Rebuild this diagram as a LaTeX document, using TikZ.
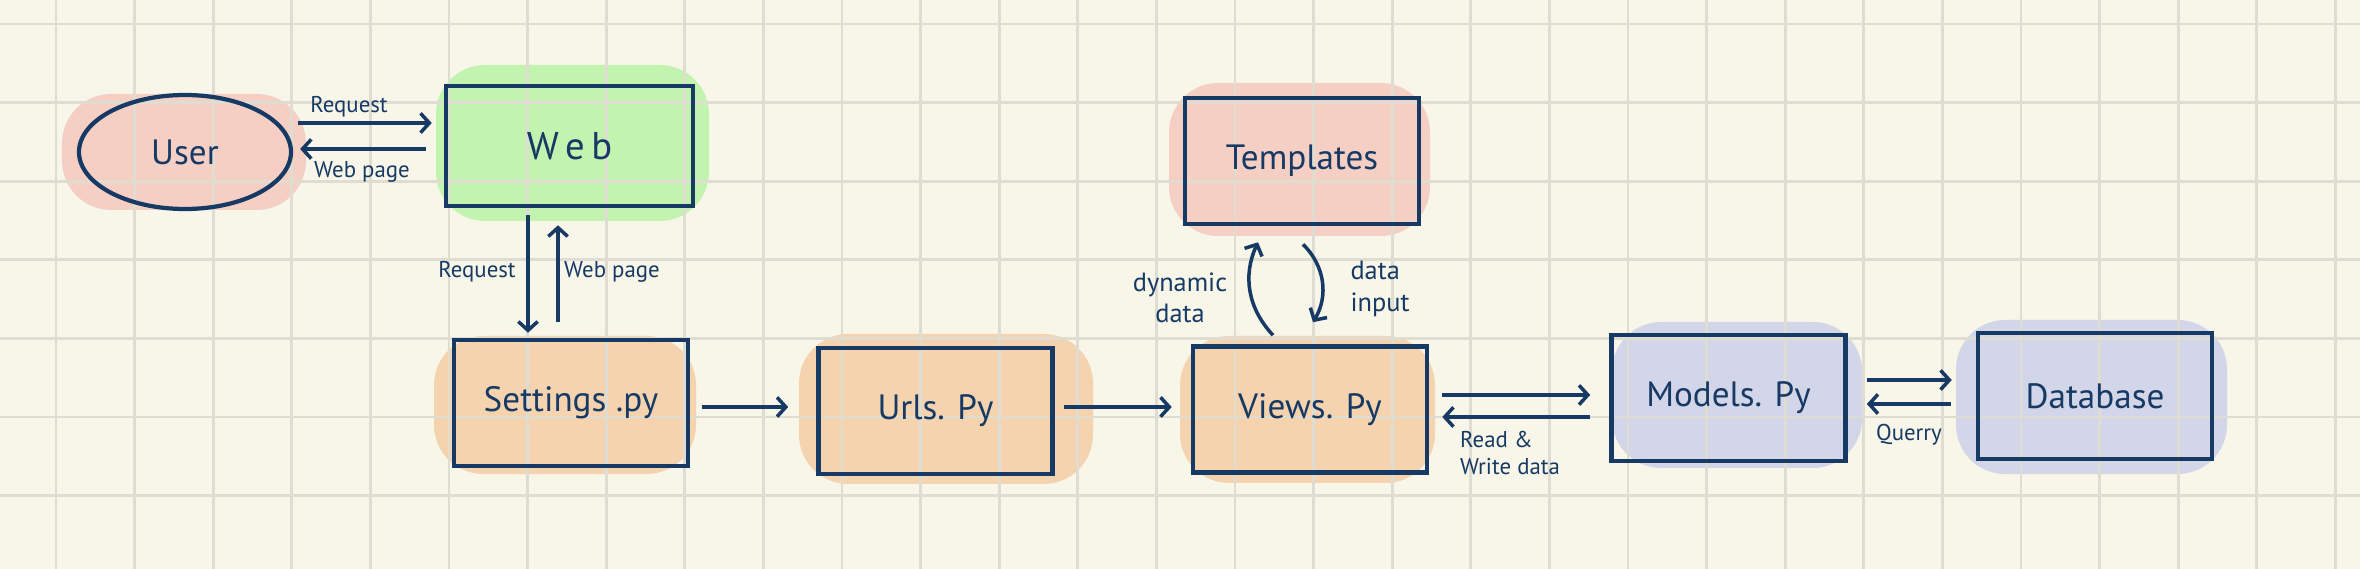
\documentclass[tikz,border=0pt]{standalone}
\usepackage{fontspec}
\setmainfont{PT Sans}
\usetikzlibrary{arrows.meta, positioning, calc, shapes.geometric}
\definecolor{paper}{HTML}{F8F5E9}
\definecolor{gridc}{HTML}{DFDCD1}
\definecolor{ink}{HTML}{163A64}
\definecolor{washPink}{HTML}{F5CFC3}
\definecolor{washGreen}{HTML}{C3F4AF}
\definecolor{washOrange}{HTML}{F6D3AF}
\definecolor{washLilac}{HTML}{D3D5E8}
\tikzset{
  box/.style={draw=ink, line width=1.3pt, text=ink, font=\fontsize{10}{12}\selectfont,
    minimum width=2.34cm, minimum height=1.26cm, inner sep=2pt},
  lbl/.style={text=ink, font=\fontsize{6.5}{7.5}\selectfont, align=center, inner sep=1pt},
  arr/.style={-{Straight Barb[length=2.5pt, width=5.5pt]}, draw=ink, line width=1pt},
  wash/.style={rounded corners=14pt},
}

\begin{document}
\begin{tikzpicture}
  \useasboundingbox (0,0) rectangle (23.6,-5.69);
  \fill[paper] (0,0) rectangle (23.6,-5.69);

  % marker washes behind the boxes
  \fill[washPink, wash] (0.62,-0.94) rectangle (3.06,-2.10);
  \fill[washGreen, wash] (4.36,-0.65) rectangle (7.09,-2.21);
  \fill[washOrange, wash] (4.34,-3.36) rectangle (6.96,-4.74);
  \fill[washOrange, wash] (7.99,-3.34) rectangle (10.93,-4.84);
  \fill[washOrange, wash] (11.80,-3.36) rectangle (14.35,-4.83);
  \fill[washPink, wash] (11.69,-0.83) rectangle (14.30,-2.36);
  \fill[washLilac, wash] (16.12,-3.22) rectangle (18.62,-4.68);
  \fill[washLilac, wash] (19.56,-3.20) rectangle (22.27,-4.74);

  % squared paper
  \foreach \k in {0,...,29}
    \draw[gridc, line width=0.8pt] ({0.56+0.786*\k},0) -- ({0.56+0.786*\k},-5.69);
  \foreach \k in {0,...,6}
    \draw[gridc, line width=0.8pt] (0,{-0.24-0.786*\k}) -- (23.6,{-0.24-0.786*\k});

  % nodes
  \node[box, ellipse, line width=1.2pt, minimum width=2.12cm, minimum height=1.14cm] (user) at (1.85,-1.52) {User};
  \node[box, minimum width=2.47cm, minimum height=1.20cm, font=\fontsize{11}{13}\selectfont] (web) at (5.695,-1.46) {W\,e\,b};
  \node[box] (settings) at (5.71,-4.03) {Settings .py};
  \node[box] (urls) at (9.355,-4.11) {Urls. Py};
  \node[box] (views) at (13.10,-4.095) {Views. Py};
  \node[box] (templates) at (13.02,-1.61) {Templates};
  \node[box] (models) at (17.285,-3.98) {Models. Py};
  \node[box] (db) at (20.95,-3.96) {Database};

  % user <-> web
  \draw[arr] ($(user.east)+(0.05,0.29)$) -- ($(web.west|-user.east)+(-0.12,0.29)$);
  \draw[arr] ($(web.west|-user.east)+(-0.18,0.03)$) -- ($(user.east)+(0.07,0.03)$);
  \node[lbl] (reqA) at (3.49,-1.07) {Request};
  \node[lbl] (pageA) at (3.62,-1.72) {Web page};

  % web <-> settings
  \draw[arr] ($(web.south)+(-0.415,-0.07)$) -- ($(web.south|-settings.north)+(-0.415,0.05)$);
  \draw[arr] ($(web.south|-settings.north)+(-0.115,0.16)$) -- ($(web.south)+(-0.115,-0.17)$);
  \node[lbl] (reqB) at (4.77,-2.72) {Request};
  \node[lbl] (pageB) at (6.12,-2.72) {Web page};

  % request chain
  \draw[arr] ($(settings.east)+(0.12,-0.04)$) -- ($(urls.west|-settings.east)+(-0.28,-0.04)$);
  \draw[arr] ($(urls.east)+(0.09,0.04)$) -- ($(views.west|-urls.east)+(-0.19,0.04)$);

  % views <-> templates
  \draw[arr] ($(views.north)+(-0.37,0.09)$) to[bend left=34] ($(templates.south)+(-0.44,-0.16)$);
  \draw[arr] ($(templates.south)+(0.01,-0.18)$) to[bend left=38] ($(views.north)+(0.03,0.22)$);
  \node[lbl, font=\fontsize{7.5}{9}\selectfont] (dyn) at (11.80,-2.98) {dynamic\\data};
  \node[lbl, font=\fontsize{7.5}{9}\selectfont, align=left] (inp) at (13.80,-2.89) {data\\input};

  % views <-> models
  \draw[arr] ($(views.east)+(0.13,0.145)$) -- ($(models.west|-views.east)+(-0.19,0.145)$);
  \draw[arr] ($(models.west|-views.east)+(-0.19,-0.075)$) -- ($(views.east)+(0.13,-0.075)$);
  \node[lbl, align=left, anchor=west] (rw) at (14.56,-4.53) {Read \&\\Write data};

  % models <-> database
  \draw[arr] ($(models.east)+(0.19,0.18)$) -- ($(db.west|-models.east)+(-0.24,0.18)$);
  \draw[arr] ($(db.west|-models.east)+(-0.25,-0.06)$) -- ($(models.east)+(0.19,-0.06)$);
  \node[lbl] (qry) at (19.09,-4.35) {Querry};
\end{tikzpicture}
\end{document}
